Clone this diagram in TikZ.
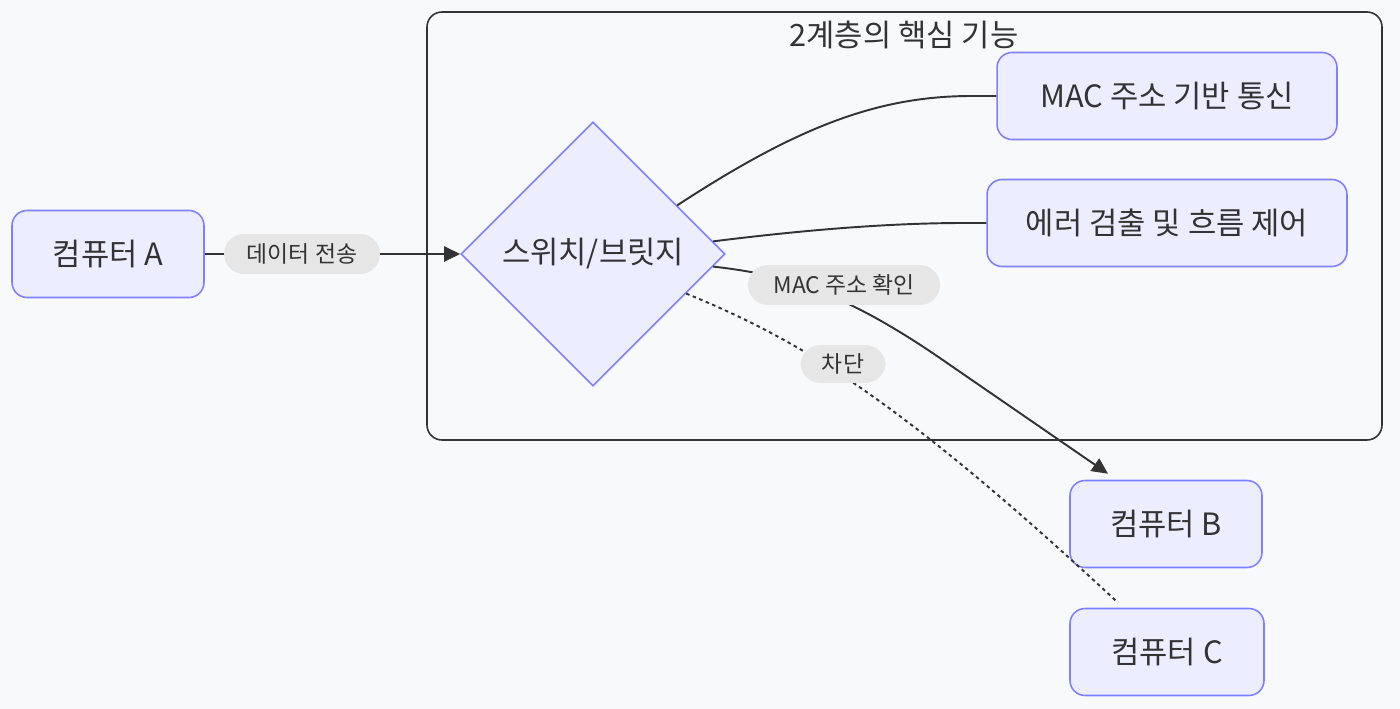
\documentclass[tikz,border=0pt]{standalone}
\usepackage{fontspec}
\setmainfont{Noto Sans CJK KR}
\usetikzlibrary{shapes.geometric,arrows.meta}
\definecolor{bgcol}{RGB}{248,249,251}
\definecolor{nodefill}{RGB}{236,238,255}
\definecolor{nodeline}{RGB}{128,128,255}
\definecolor{edgecol}{RGB}{51,51,51}
\definecolor{pillfill}{RGB}{230,230,230}
\begin{document}
\begin{tikzpicture}[x=0.02cm, y=-0.02cm, >={Triangle[length=0.32cm,width=0.3cm]},
  block/.style={draw=nodeline, fill=nodefill, line width=0.9pt, rounded corners=0.3cm, minimum width=3.84cm, minimum height=1.74cm, inner sep=0pt, text=edgecol, font=\fontsize{17.5}{20}\selectfont},
  switchbox/.style={diamond, aspect=1, draw=nodeline, fill=nodefill, line width=0.9pt, minimum width=5.28cm, minimum height=5.28cm, inner sep=0pt, text=edgecol, font=\fontsize{17.5}{20}\selectfont},
  pill/.style={fill=pillfill, rounded corners=0.4cm, minimum height=0.8cm, inner sep=0pt, text=edgecol, font=\fontsize{13}{15}\selectfont},
  link/.style={draw=edgecol, line width=1.1pt}]
  \fill [bgcol] (0,0) rectangle (1400,709);

  % layer 2 group
  \draw [edgecol, line width=0.9pt, rounded corners=0.3cm] (427,12) rectangle (1382,440);
  \node [text=edgecol, font=\fontsize{17.5}{20}\selectfont] (title) at (904,35) {2계층의 핵심 기능};

  \node [block] (pca) at (108,254) {컴퓨터 A};
  \node [switchbox] (sw) at (593,254) {스위치/브릿지};
  \node [block, minimum width=6.8cm] (mac) at (1167,96) {MAC 주소 기반 통신};
  \node [block, minimum width=7.2cm] (err) at (1167,223) {에러 검출 및 흐름 제어};
  \node [block] (pcb) at (1166,524) {컴퓨터 B};
  \node [block, minimum width=3.88cm] (pcc) at (1167,652) {컴퓨터 C};

  \draw [link, ->] (pca.east) -- (sw.west);
  \draw [link] (sw.30) .. controls (800,125) and (880,96) .. (972,96) -- (mac.west);
  \draw [link] (sw.6) .. controls (820,228) and (900,223) .. (965,223) -- (err.west);
  \draw [link, ->] (sw.-6) .. controls (790,275) and (850,295) .. (950,365) -- ([xshift=-1.16cm, yshift=0.12cm]pcb.north);
  \draw [link, dash pattern=on 2pt off 2pt] (sw.-23) .. controls (800,340) and (900,400) .. ([xshift=-0.98cm, yshift=0.1cm]pcc.north);

  \node [pill, minimum width=3.12cm] (lsend) at (302,254) {데이터 전송};
  \node [pill, minimum width=3.84cm] (lcheck) at (844,285) {MAC 주소 확인};
  \node [pill, minimum width=1.7cm, minimum height=0.76cm] (lblock) at (843,364) {차단};
\end{tikzpicture}
\end{document}
